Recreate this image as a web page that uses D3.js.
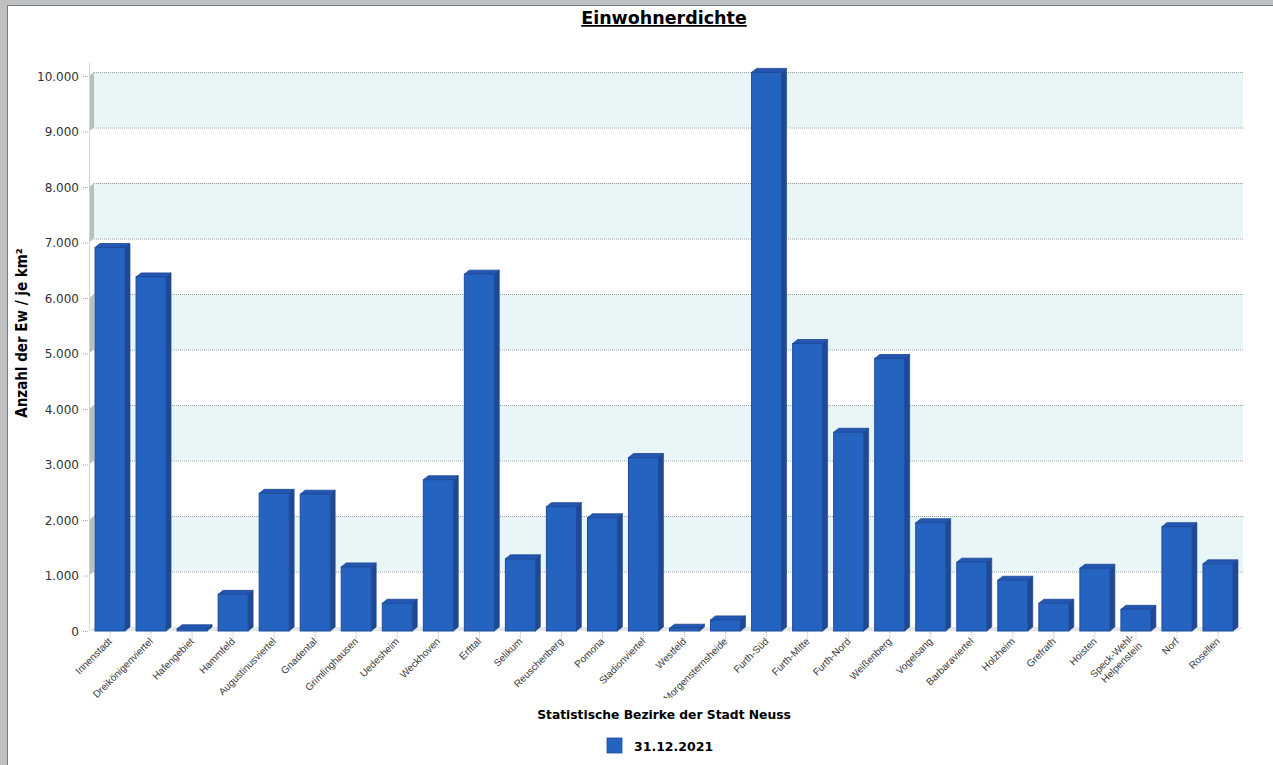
<!DOCTYPE html>
<html>
<head>
<meta charset="utf-8">
<script src="https://cdn.jsdelivr.net/npm/d3@7"></script>
<style>
  body { margin: 0; background: #fff; }
  svg { display: block; }
</style>
</head>
<body>
<svg id="chart" width="1273" height="765"></svg>
<script>
// Statistische Bezirke
let districts = ["Innenstadt", "Dreikönigenviertel", "Hafengebiet", "Hammfeld", "Augustinusviertel",
    "Gnadental", "Grimlinghausen", "Uedesheim", "Weckhoven", "Erfttal", "Selikum", "Reuschenberg",
    "Pomona", "Stadionviertel", "Westfeld", "Morgensternsheide", "Furth-Süd", "Furth-Mitte",
    "Furth-Nord", "Weißenberg", "Vogelsang", "Barbaraviertel", "Holzheim", "Grefrath", "Hoisten",
    "Speck-Wehl-Helpenstein", "Norf", "Rosellen"];

// Einwohner je km² (31.12.2021)
let density = [6910, 6380, 40, 660, 2480, 2465, 1155, 500, 2725, 6430, 1300, 2240,
    2040, 3125, 50, 200, 10065, 5180, 3580, 4910, 1950, 1240, 915, 500, 1130,
    390, 1880, 1210];

let yTicks = [0, 1000, 2000, 3000, 4000, 5000, 6000, 7000, 8000, 9000, 10000];
let seriesName = "31.12.2021";

let svg = d3.select("#chart");

const DX = 5, DY = 4;
const plotLeft = 89, plotRight = 1238, plotBottom = 631, plotTop = 76;

let x = d3.scaleBand().domain(districts).range([plotLeft, plotRight]).padding(0);
let y = d3.scaleLinear().domain([0, 10000]).range([plotBottom, plotTop]);
let fmt = v => d3.format(",")(v).replace(/,/g, ".");

// frame
svg.append("rect").attr("x", 0).attr("y", 0).attr("width", 1273).attr("height", 5).attr("fill", "#c0c0c0");
svg.append("rect").attr("x", 0).attr("y", 0).attr("width", 7).attr("height", 765).attr("fill", "#c0c0c0");
svg.append("line").attr("x1", 7).attr("x2", 1273).attr("y1", 5.5).attr("y2", 5.5).attr("stroke", "#6f7f8c");
svg.append("line").attr("x1", 7.5).attr("x2", 7.5).attr("y1", 5).attr("y2", 765).attr("stroke", "#6f7f8c");

// back wall bands
let bands = yTicks.slice(0, -1).filter(t => (t / 1000) % 2 === 1);
svg.selectAll(".band").data(bands).enter().append("rect")
    .attr("class", "band")
    .attr("x", plotLeft + DX).attr("width", plotRight - plotLeft)
    .attr("y", d => y(d + 1000) - DY)
    .attr("height", d => y(d) - y(d + 1000))
    .attr("fill", "#e8f6f7");

// left wall
svg.selectAll(".wall").data(bands).enter().append("path")
    .attr("class", "wall")
    .attr("d", d => `M${plotLeft},${y(d)} L${plotLeft},${y(d + 1000)} L${plotLeft + DX},${y(d + 1000) - DY} L${plotLeft + DX},${y(d) - DY} Z`)
    .attr("fill", "#b9bfbf");

// grid lines
svg.selectAll(".grid").data(yTicks.slice(1)).enter().append("line")
    .attr("class", "grid")
    .attr("x1", plotLeft + DX).attr("x2", plotRight + DX)
    .attr("y1", d => y(d) - DY + 0.5).attr("y2", d => y(d) - DY + 0.5)
    .attr("stroke", "#a0a0a0").attr("stroke-dasharray", "1,1");

// floor
svg.append("path")
    .attr("d", `M${plotLeft},${plotBottom} L${plotRight},${plotBottom} L${plotRight + DX},${plotBottom - DY} L${plotLeft + DX},${plotBottom - DY} Z`)
    .attr("fill", "#e6e6e6");

// axis line
svg.append("line").attr("x1", plotLeft + 0.5).attr("x2", plotLeft + 0.5).attr("y1", 63).attr("y2", plotBottom)
    .attr("stroke", "#d4d4d4");

// bars
let bw = 30, off = (x.bandwidth() - bw) / 2 + 0.5;
let bars = svg.selectAll(".bar").data(districts).enter().append("g").attr("class", "bar");
bars.append("path")
    .attr("d", (d, i) => {
        let x1 = x(d) + off + bw, yt = y(density[i]);
        return `M${x1},${plotBottom} L${x1},${yt} L${x1 + DX},${yt - DY} L${x1 + DX},${plotBottom - DY} Z`;
    })
    .attr("fill", "#1f4a93").attr("stroke", "#1c4489").attr("stroke-width", 0.6);
bars.append("path")
    .attr("d", (d, i) => {
        let x0 = x(d) + off, yt = y(density[i]);
        return `M${x0},${yt} L${x0 + DX},${yt - DY} L${x0 + bw + DX},${yt - DY} L${x0 + bw},${yt} Z`;
    })
    .attr("fill", "#2457b3").attr("stroke", "#1d4690").attr("stroke-width", 0.8);
bars.append("rect")
    .attr("x", d => x(d) + off)
    .attr("y", (d, i) => y(density[i]))
    .attr("width", bw)
    .attr("height", (d, i) => plotBottom - y(density[i]))
    .attr("fill", "#2563c1").attr("stroke", "#1e4c9c").attr("stroke-width", 1);

// y ticks
let yAxis = svg.append("g");
yAxis.selectAll("line").data(yTicks).enter().append("line")
    .attr("x1", 83).attr("x2", 89)
    .attr("y1", d => y(d) + 0.5).attr("y2", d => y(d) + 0.5)
    .attr("stroke", "#aaa").attr("stroke-dasharray", "1,1");
yAxis.selectAll("text").data(yTicks).enter().append("text")
    .attr("x", 79).attr("y", d => y(d) + 4.5)
    .attr("text-anchor", "end")
    .attr("font-family", "DejaVu Sans, sans-serif").attr("font-size", 12)
    .attr("fill", "#333")
    .text(d => fmt(d));

// x ticks
svg.selectAll(".xtick").data(districts).enter().append("line")
    .attr("class", "xtick")
    .attr("x1", d => x(d) + x.bandwidth() / 2 + 0.5).attr("x2", d => x(d) + x.bandwidth() / 2 + 0.5)
    .attr("y1", plotBottom + 1).attr("y2", plotBottom + 9)
    .attr("stroke", "#bbb").attr("stroke-dasharray", "1,1");

svg.append("clipPath").attr("id", "lblclip").append("rect")
    .attr("x", 0).attr("y", 630).attr("width", 1273).attr("height", 68);

let xl = svg.append("g").attr("clip-path", "url(#lblclip)");
xl.selectAll("text").data(districts).enter().append("text")
    .attr("transform", d => `translate(${x(d) + x.bandwidth() / 2 + 3},${plotBottom + 11}) rotate(-45)`)
    .attr("text-anchor", "end")
    .attr("font-family", "Liberation Sans, Arial, sans-serif").attr("font-size", 10)
    .attr("fill", "#3a3a3a")
    .each(function (d) {
        let t = d3.select(this);
        if (d === "Speck-Wehl-Helpenstein") {
            t.append("tspan").attr("x", 0).attr("dy", "-0.55em").text("Speck-Wehl-");
            t.append("tspan").attr("x", 0).attr("dy", "1.15em").text("Helpenstein");
        } else {
            t.text(d);
        }
    });

// titles
svg.append("text")
    .attr("x", 664).attr("y", 24)
    .attr("text-anchor", "middle")
    .attr("font-family", "DejaVu Sans, sans-serif").attr("font-weight", "bold").attr("font-size", 17.5)
    .attr("text-decoration", "underline")
    .attr("fill", "#000")
    .text("Einwohnerdichte");

svg.append("text")
    .attr("transform", "translate(27,333) rotate(-90)")
    .attr("text-anchor", "middle")
    .attr("font-family", "DejaVu Sans Condensed, sans-serif").attr("font-weight", "bold").attr("font-size", 15)
    .attr("fill", "#000")
    .text("Anzahl der Ew / je km²");

svg.append("text")
    .attr("x", 664).attr("y", 719)
    .attr("text-anchor", "middle")
    .attr("font-family", "DejaVu Sans, sans-serif").attr("font-weight", "bold").attr("font-size", 12.3)
    .attr("fill", "#000")
    .text("Statistische Bezirke der Stadt Neuss");

// legend
svg.append("rect").attr("x", 607).attr("y", 738).attr("width", 15).attr("height", 15)
    .attr("fill", "#2563c1").attr("stroke", "#1e4c9c").attr("stroke-width", 0.8);
svg.append("text")
    .attr("x", 634).attr("y", 751)
    .attr("font-family", "DejaVu Sans, sans-serif").attr("font-weight", "bold").attr("font-size", 12.5)
    .attr("fill", "#000")
    .text(seriesName);
</script>
</body>
</html>
